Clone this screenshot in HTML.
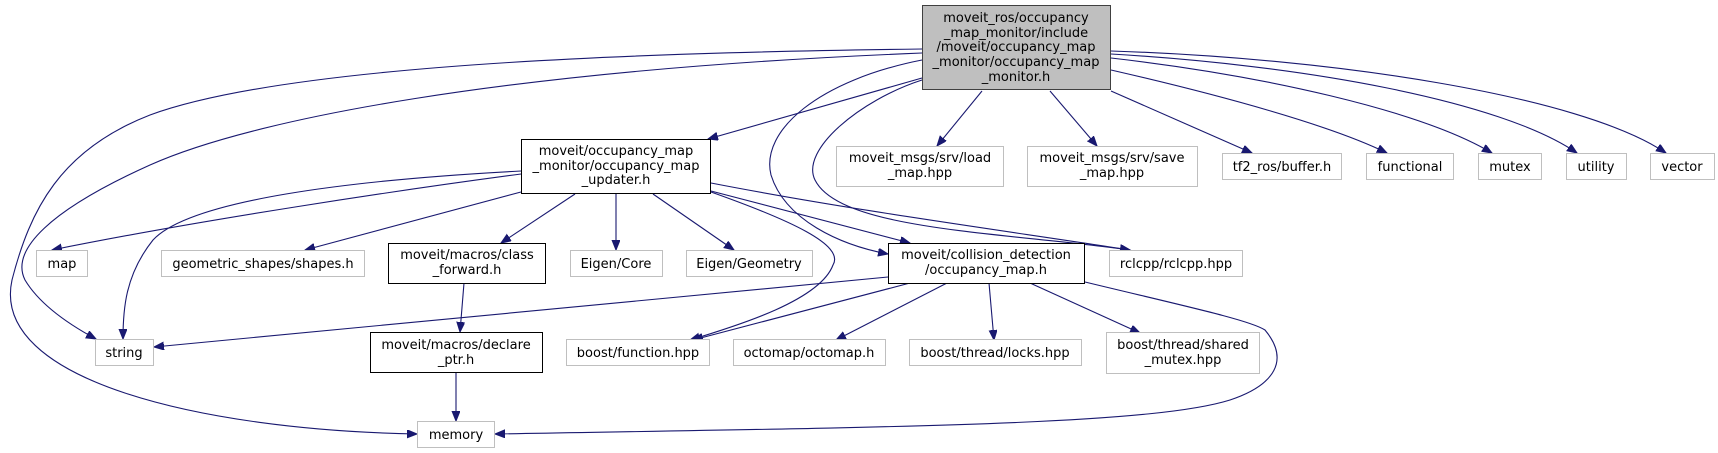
<!DOCTYPE html>
<html><head><meta charset="utf-8"><style>
html,body{margin:0;padding:0;background:#fff;}
svg{display:block;}
text{font-family:"DejaVu Sans","Liberation Sans",sans-serif;font-size:13px;fill:#000;text-anchor:middle;}
.e{fill:none;stroke:#191970;stroke-width:1.1;}
.n{fill:#fff;stroke:#000;stroke-width:1;}
.g{fill:#fff;stroke:#bfbfbf;stroke-width:1;}
</style></head><body>
<svg width="1718" height="453" viewBox="0 0 1718 453" xmlns="http://www.w3.org/2000/svg">
<defs>
<marker id="a" markerUnits="userSpaceOnUse" markerWidth="12" markerHeight="10" refX="10" refY="4" orient="auto">
<path d="M0,0 L10,4 L0,8 Z" fill="#191970" stroke="#191970"/>
</marker>
</defs>

<path class="e" marker-end="url(#a)" d="M922,49 C700,52 300,60 150,115 C60,150 30,210 12,280 C-10,380 200,430 417,434"/>
<path class="e" marker-end="url(#a)" d="M922,53 C500,70 250,120 150,165 C50,210 10,250 25,280 C40,305 70,325 96,339"/>
<path class="e" marker-end="url(#a)" d="M922,78 L708,139"/>
<path class="e" marker-end="url(#a)" d="M922,60 C820,80 760,130 771,175 C785,220 840,245 888,254"/>
<path class="e" marker-end="url(#a)" d="M922,80 C860,100 800,150 815,180 C840,230 1000,232 1130,250"/>
<path class="e" marker-end="url(#a)" d="M982,91 L937,146"/>
<path class="e" marker-end="url(#a)" d="M1050,91 L1097,146"/>
<path class="e" marker-end="url(#a)" d="M1111,91 L1252,153"/>
<path class="e" marker-end="url(#a)" d="M1111,70 C1220,95 1330,125 1387,153"/>
<path class="e" marker-end="url(#a)" d="M1111,58 C1260,75 1420,110 1492,153"/>
<path class="e" marker-end="url(#a)" d="M1111,54 C1300,65 1500,100 1577,153"/>
<path class="e" marker-end="url(#a)" d="M1111,51 C1330,58 1580,95 1666,153"/>

<path class="e" marker-end="url(#a)" d="M521,174 C400,190 200,220 52,250"/>
<path class="e" marker-end="url(#a)" d="M521,171 C350,180 190,200 153,240 C125,275 123,310 123,339"/>
<path class="e" marker-end="url(#a)" d="M521,192 L305,250"/>
<path class="e" marker-end="url(#a)" d="M575,194 L501,243"/>
<path class="e" marker-end="url(#a)" d="M616,194 L616,250"/>
<path class="e" marker-end="url(#a)" d="M653,194 L734,250"/>
<path class="e" marker-end="url(#a)" d="M711,183 C850,210 1000,230 1130,250"/>
<path class="e" marker-end="url(#a)" d="M711,191 L910,243"/>
<path class="e" marker-end="url(#a)" d="M711,192 C790,220 845,245 833,265 C820,300 740,325 690,340"/>

<path class="e" marker-end="url(#a)" d="M464,283 L460,332"/>
<path class="e" marker-end="url(#a)" d="M456,373 L456,421"/>

<path class="e" marker-end="url(#a)" d="M888,277 L154,347"/>
<path class="e" marker-end="url(#a)" d="M910,283 L693,340"/>
<path class="e" marker-end="url(#a)" d="M947,283 L836,340"/>
<path class="e" marker-end="url(#a)" d="M989,283 L994,340"/>
<path class="e" marker-end="url(#a)" d="M1030,283 L1140,333"/>
<path class="e" marker-end="url(#a)" d="M1085,282 C1180,305 1250,320 1265,330 C1290,360 1275,385 1230,400 C1150,425 900,427 495,434"/>

<rect x="922.5" y="5.5" width="188" height="84" fill="#bfbfbf" stroke="#404040"/>
<text x="1016" y="22">moveit_ros/occupancy</text>
<text x="1016" y="37">_map_monitor/include</text>
<text x="1016" y="51">/moveit/occupancy_map</text>
<text x="1016" y="66">_monitor/occupancy_map</text>
<text x="1016" y="81">_monitor.h</text>

<rect class="n" x="521.5" y="139.5" width="189" height="54"/>
<text x="616" y="155">moveit/occupancy_map</text>
<text x="616" y="170">_monitor/occupancy_map</text>
<text x="616" y="184">_updater.h</text>

<rect class="g" x="836.5" y="146.5" width="167" height="40"/>
<text x="920" y="162">moveit_msgs/srv/load</text>
<text x="920" y="177">_map.hpp</text>
<rect class="g" x="1027.5" y="146.5" width="170" height="40"/>
<text x="1112" y="162">moveit_msgs/srv/save</text>
<text x="1112" y="177">_map.hpp</text>
<rect class="g" x="1222.5" y="153.5" width="119" height="26"/><text x="1282" y="171">tf2_ros/buffer.h</text>
<rect class="g" x="1366.5" y="153.5" width="87" height="26"/><text x="1410" y="171">functional</text>
<rect class="g" x="1478.5" y="153.5" width="63" height="26"/><text x="1510" y="171">mutex</text>
<rect class="g" x="1566.5" y="153.5" width="60" height="26"/><text x="1596" y="171">utility</text>
<rect class="g" x="1650.5" y="153.5" width="64" height="26"/><text x="1682" y="171">vector</text>

<rect class="g" x="36.5" y="250.5" width="51" height="26"/><text x="62" y="268">map</text>
<rect class="g" x="161.5" y="250.5" width="203" height="26"/><text x="263" y="268">geometric_shapes/shapes.h</text>
<rect class="n" x="388.5" y="243.5" width="157" height="40"/>
<text x="467" y="259">moveit/macros/class</text>
<text x="467" y="274">_forward.h</text>
<rect class="g" x="570.5" y="250.5" width="92" height="26"/><text x="616" y="268">Eigen/Core</text>
<rect class="g" x="686.5" y="250.5" width="126" height="26"/><text x="749" y="268">Eigen/Geometry</text>
<rect class="n" x="888.5" y="243.5" width="196" height="40"/>
<text x="986" y="259">moveit/collision_detection</text>
<text x="986" y="274">/occupancy_map.h</text>
<rect class="g" x="1109.5" y="250.5" width="133" height="26"/><text x="1176" y="268">rclcpp/rclcpp.hpp</text>

<rect class="g" x="95.5" y="339.5" width="58" height="26"/><text x="124" y="357">string</text>
<rect class="n" x="370.5" y="332.5" width="172" height="40"/>
<text x="456" y="349">moveit/macros/declare</text>
<text x="456" y="364">_ptr.h</text>
<rect class="g" x="566.5" y="339.5" width="143" height="26"/><text x="638" y="357">boost/function.hpp</text>
<rect class="g" x="733.5" y="339.5" width="152" height="26"/><text x="809" y="357">octomap/octomap.h</text>
<rect class="g" x="909.5" y="339.5" width="172" height="26"/><text x="995" y="357">boost/thread/locks.hpp</text>
<rect class="g" x="1106.5" y="332.5" width="153" height="41"/>
<text x="1183" y="349">boost/thread/shared</text>
<text x="1183" y="364">_mutex.hpp</text>

<rect class="g" x="417.5" y="421.5" width="77" height="26"/><text x="456" y="439">memory</text>
</svg>
</body></html>
